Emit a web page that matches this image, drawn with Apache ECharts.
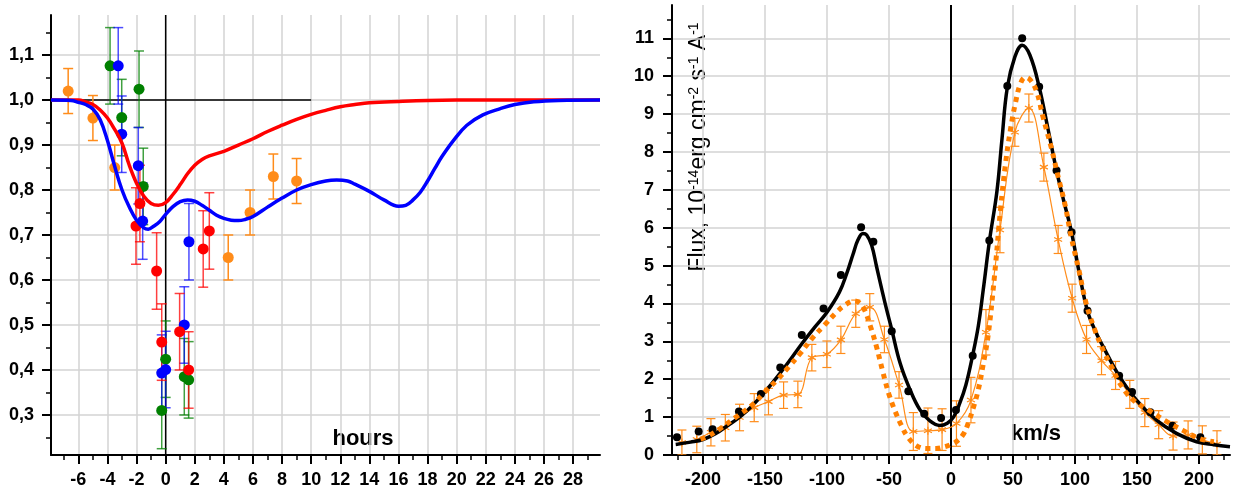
<!DOCTYPE html>
<html>
<head>
<meta charset="utf-8">
<script src="https://cdn.jsdelivr.net/npm/echarts@6/dist/echarts.min.js"></script>
<style>
  html, body { margin: 0; padding: 0; background: #fff; }
  #chart { width: 1243px; height: 491px; }
</style>
</head>
<body>
<div id="chart"></div>
<script>
// ---------- Left panel: relative flux vs. time (hours) ----------
const hoursTicks = [-6, -4, -2, 0, 2, 4, 6, 8, 10, 12, 14, 16, 18, 20, 22, 24, 26, 28];
const hoursMinor = [-7, -5, -3, -1, 1, 3, 5, 7, 9, 11, 13, 15, 17, 19, 21, 23, 25, 27, 29];
const ratioTicks = [0.3, 0.4, 0.5, 0.6, 0.7, 0.8, 0.9, 1.0, 1.1];
const ratioMinor = [0.25, 0.35, 0.45, 0.55, 0.65, 0.75, 0.85, 0.95, 1.05, 1.15];
const hoursRange = [-7.88, 29.85];
const ratioRange = [0.211, 1.189];

// observed points: [hour, ratio, error]
const orangeObs = [[-6.7, 1.02, 0.05], [-5.0, 0.96, 0.05], [-3.5, 0.85, 0.05], [4.3, 0.65, 0.05],
                   [5.8, 0.75, 0.05], [7.4, 0.83, 0.05], [9.0, 0.82, 0.05]];
const greenObs  = [[-3.82, 1.076, 0.085], [-3.02, 0.961, 0.085], [-1.83, 1.024, 0.085], [-1.54, 0.808, 0.085],
                   [0.0, 0.424, 0.085], [-0.27, 0.31, 0.085], [1.28, 0.385, 0.085], [1.58, 0.378, 0.085]];
const blueObs   = [[-3.26, 1.076, 0.085], [-3.02, 0.924, 0.085], [-1.88, 0.854, 0.085], [-1.58, 0.731, 0.085],
                   [1.6, 0.685, 0.085], [1.28, 0.50, 0.085], [0.0, 0.401, 0.085], [-0.27, 0.393, 0.085]];
const redObs    = [[-1.77, 0.77, 0.085], [-2.04, 0.72, 0.085], [-0.62, 0.62, 0.085], [-0.27, 0.462, 0.085],
                   [0.96, 0.485, 0.085], [1.58, 0.40, 0.085], [2.58, 0.669, 0.085], [3.0, 0.709, 0.085]];

// model light curves
const redModelX = [-7.88, -6, -5.5, -5, -4.5, -4, -3.6, -3, -2.5, -2, -1.5, -1, -0.5, 0, 0.5, 1, 1.5, 2, 2.5, 3, 4, 5, 6, 7, 8, 9, 10, 11, 12, 13, 14, 16, 18, 22, 29.85];
const redModelY = [1.0, 1.0, 0.996, 0.99, 0.978, 0.96, 0.94, 0.904, 0.855, 0.815, 0.786, 0.77, 0.766, 0.772, 0.79, 0.812, 0.836, 0.855, 0.868, 0.876, 0.886, 0.90, 0.914, 0.93, 0.944, 0.957, 0.968, 0.977, 0.985, 0.99, 0.994, 0.997, 0.999, 1.0, 1.0];
const blueModelX = [-7.88, -6.5, -6, -5.5, -5, -4.5, -4, -3.5, -3, -2.5, -2, -1.5, -1.2, -0.8, -0.4, 0, 0.5, 1, 1.5, 2, 2.5, 3, 3.5, 4, 4.5, 5, 5.5, 6, 7, 8, 9, 10, 11, 11.75, 12.5, 13, 14, 15, 16, 16.5, 17, 17.5, 18, 18.5, 19, 19.8, 20.7, 21.8, 23, 24, 25.3, 27, 29.85];
const blueModelY = [1.0, 0.999, 0.995, 0.99, 0.98, 0.956, 0.91, 0.852, 0.80, 0.762, 0.733, 0.716, 0.713, 0.72, 0.73, 0.746, 0.763, 0.774, 0.778, 0.775, 0.766, 0.755, 0.744, 0.737, 0.733, 0.732, 0.735, 0.741, 0.762, 0.782, 0.80, 0.812, 0.82, 0.822, 0.82, 0.813, 0.797, 0.778, 0.764, 0.766, 0.778, 0.795, 0.82, 0.848, 0.875, 0.911, 0.944, 0.967, 0.981, 0.99, 0.996, 0.999, 1.0];

// ---------- Right panel: line profile (km/s) ----------
const velTicks = [-200, -150, -100, -50, 0, 50, 100, 150, 200];
const velMinor = [-220, -210, -190, -180, -170, -160, -140, -130, -120, -110, -90, -80, -70, -60, -40, -30, -20, -10,
                  10, 20, 30, 40, 60, 70, 80, 90, 110, 120, 130, 140, 160, 170, 180, 190, 210, 220];
const fluxTicks = [0, 1, 2, 3, 4, 5, 6, 7, 8, 9, 10, 11];
const fluxMinor = [0.5, 1.5, 2.5, 3.5, 4.5, 5.5, 6.5, 7.5, 8.5, 9.5, 10.5, 11.5];
const velRange = [-225, 225];
const fluxRange = [0, 11.88];

const dotsX = [-221, -203.5, -192.3, -171, -153.3, -137.7, -120.3, -102.8, -88.8, -72.5, -62.6, -47.8, -34.4, -21.6, -8, 4,
               17.5, 30.9, 45.4, 57.4, 71.1, 85.1, 97.2, 110.1, 135.6, 146, 160.8, 178.6, 201.1];
const dotsY = [0.47, 0.62, 0.68, 1.15, 1.61, 2.31, 3.17, 3.87, 4.75, 6.01, 5.63, 3.27, 1.68, 1.09, 0.98, 1.19,
               2.62, 5.66, 9.74, 11.0, 9.72, 7.51, 5.88, 3.81, 2.09, 1.66, 1.13, 0.77, 0.47];

const fitX = [-222, -210, -200, -190, -180, -170, -160, -150, -140, -130, -120, -110, -100, -90, -84, -79, -75, -71, -68, -64, -60, -56, -52, -48, -41, -33, -25, -17, -9, -3, 2, 7, 12, 17.5, 22, 26, 31, 37, 41, 45.4, 51.5, 57.4, 63.6, 71.1, 78.4, 85.1, 91, 97.2, 104, 110, 116, 122.7, 135.6, 149.6, 165.7, 181.8, 198, 212, 225];
const fitY = [0.28, 0.34, 0.41, 0.56, 0.78, 1.01, 1.31, 1.67, 2.07, 2.50, 2.95, 3.37, 3.77, 4.30, 4.80, 5.30, 5.68, 5.85, 5.81, 5.54, 4.97, 4.40, 3.85, 3.34, 2.42, 1.72, 1.19, 0.90, 0.78, 0.84, 1.0, 1.36, 1.85, 2.64, 3.4, 4.36, 5.65, 6.95, 8.3, 9.7, 10.51, 10.82, 10.56, 9.72, 8.58, 7.51, 6.7, 5.88, 4.71, 3.81, 3.3, 2.86, 2.09, 1.45, 0.92, 0.57, 0.35, 0.27, 0.22];

const dottedX = [-202, -196, -186, -173, -160, -150, -140, -131, -121.6, -112, -102, -92, -85, -78, -74, -70, -65, -60, -55, -50, -45, -40, -35, -28, -20, -12, -5, 0, 5, 10, 14, 18, 22, 26, 30, 35, 40, 44, 48, 52, 56, 60, 64, 69, 74, 81, 86, 92, 97, 103, 109, 116, 123, 130, 136, 147, 160, 174, 187, 200, 212];
const dottedY = [0.42, 0.5, 0.70, 1.01, 1.33, 1.67, 1.99, 2.32, 2.68, 3.08, 3.43, 3.78, 3.97, 4.07, 4.02, 3.85, 3.4, 2.85, 2.2, 1.6, 1.15, 0.78, 0.48, 0.25, 0.17, 0.17, 0.22, 0.28, 0.37, 0.55, 0.85, 1.25, 1.72, 2.4, 3.17, 4.7, 6.5, 7.7, 8.6, 9.3, 9.8, 9.97, 9.9, 9.6, 8.95, 8.1, 7.4, 6.6, 5.75, 4.9, 4.0, 3.3, 2.75, 2.3, 1.9, 1.45, 1.17, 0.88, 0.65, 0.44, 0.35];

const starX = [-217, -205, -193.6, -182, -170.5, -158.7, -147.2, -135, -123.5, -112.2, -100.1, -88.8, -76.8, -65.5, -53.7, -41.9, -30.4, -18.6, -7.2, 4.4, 16.1, 28.2, 39.5, 51.5, 62.8, 74.9, 86.4, 97.7, 109.3, 121.4, 132.7, 144.2, 156.3, 167.5, 179.1, 191.2, 202.7, 214.5];
const starY = [0.33, 0.41, 0.6, 0.72, 0.99, 1.25, 1.41, 1.58, 1.6, 2.57, 2.66, 3.04, 3.73, 3.9, 3.05, 1.85, 0.62, 0.64, 0.67, 0.83, 1.45, 3.24, 5.94, 8.52, 9.16, 7.6, 5.69, 4.14, 3.05, 2.49, 2.1, 1.6, 1.12, 0.8, 0.5, 0.53, 0.40, 0.29];
const starErr = [0.33, 0.35, 0.36, 0.35, 0.35, 0.37, 0.35, 0.35, 0.35, 0.35, 0.35, 0.36, 0.36, 0.36, 0.35, 0.35, 0.5, 0.6, 0.55, 0.6, 0.6, 0.6, 0.6, 0.37, 0.37, 0.37, 0.37, 0.37, 0.37, 0.37, 0.37, 0.37, 0.37, 0.37, 0.37, 0.37, 0.37, 0.35];

// ---------- helpers ----------
const FONT = "'Liberation Sans', Arial, Helvetica, sans-serif";
const pairs = (xs, ys) => xs.map((x, i) => [x, ys[i]]);
const commaFmt = v => Number(v).toFixed(1).replace('.', ',');

function mainAxis(grid, range, ticks, pos, margin, fmt) {
  return {
    type: 'value', gridIndex: grid, min: range[0], max: range[1], position: pos,
    axisLine: { show: true, onZero: false, lineStyle: { color: '#000', width: 2 } },
    axisTick: { show: true, inside: false, length: 9, customValues: ticks, lineStyle: { color: '#000', width: 2 } },
    axisLabel: { show: true, customValues: ticks, margin: margin, formatter: fmt,
                 color: '#000', fontSize: 18, fontWeight: 'bold', fontFamily: FONT },
    splitLine: { show: true, lineStyle: { color: '#d3d3d3', width: 1.5 } }
  };
}
function minorAxis(grid, range, ticks, pos) {
  return {
    type: 'value', gridIndex: grid, min: range[0], max: range[1], position: pos,
    axisLine: { show: false, onZero: false },
    axisTick: { show: true, inside: false, length: 5, customValues: ticks, lineStyle: { color: '#000', width: 1.5 } },
    axisLabel: { show: false },
    splitLine: { show: false }
  };
}

function errorBars(name, xi, yi, rows, color, width, cap, opacity, z) {
  return {
    type: 'custom', name: name, xAxisIndex: xi, yAxisIndex: yi, z: z, clip: true, silent: true,
    data: rows,
    encode: { x: 0, y: [1, 2] },
    renderItem: function (params, api) {
      const x = api.value(0);
      const top = api.coord([x, api.value(2)]);
      const bot = api.coord([x, api.value(1)]);
      const st = { stroke: color, lineWidth: width, opacity: opacity };
      return {
        type: 'group',
        children: [
          { type: 'line', shape: { x1: top[0], y1: top[1], x2: bot[0], y2: bot[1] }, style: st },
          { type: 'line', shape: { x1: top[0] - cap, y1: top[1], x2: top[0] + cap, y2: top[1] }, style: st },
          { type: 'line', shape: { x1: bot[0] - cap, y1: bot[1], x2: bot[0] + cap, y2: bot[1] }, style: st }
        ]
      };
    }
  };
}
const obsBars = obs => obs.map(p => [p[0], p[1] - p[2], p[1] + p[2]]);
const obsPoints = (name, obs, color) => ({
  type: 'scatter', name: name, xAxisIndex: 0, yAxisIndex: 0, z: 3,
  symbol: 'circle', symbolSize: 11, itemStyle: { color: color, opacity: 1 },
  data: obs.map(p => [p[0], p[1]])
});

const ORANGE = '#ff8c1a';
const ORANGE2 = '#ff8000';
const asterisk = 'path://M5,0L5,10M0.67,2.5L9.33,7.5M0.67,7.5L9.33,2.5';

const series = [
  // left panel reference lines
  { type: 'line', xAxisIndex: 0, yAxisIndex: 0, z: 1, showSymbol: false, silent: true,
    lineStyle: { color: '#000', width: 1.5 }, data: [[0, ratioRange[0]], [0, ratioRange[1]]] },
  { type: 'line', xAxisIndex: 0, yAxisIndex: 0, z: 1, showSymbol: false, silent: true,
    lineStyle: { color: '#000', width: 1.5 }, data: [[hoursRange[0], 1.0], [10, 1.0]] },
  // error bars
  errorBars('orange err', 0, 0, obsBars(orangeObs), ORANGE, 1.5, 5, 1, 2),
  errorBars('green err', 0, 0, obsBars(greenObs), '#008000', 1.5, 5, 0.75, 2),
  errorBars('blue err', 0, 0, obsBars(blueObs), '#0000ff', 1.5, 5, 0.7, 2),
  errorBars('red err', 0, 0, obsBars(redObs), '#ff0000', 1.5, 5, 0.75, 2),
  // observed points
  obsPoints('orange', orangeObs, ORANGE),
  obsPoints('green', greenObs, '#008000'),
  obsPoints('blue', blueObs, '#0000ff'),
  obsPoints('red', redObs, '#ff0000'),
  // model curves
  { type: 'line', name: 'red model', xAxisIndex: 0, yAxisIndex: 0, z: 4, smooth: 0.4, showSymbol: false,
    lineStyle: { color: '#ff0000', width: 3.5 }, data: pairs(redModelX, redModelY) },
  { type: 'line', name: 'blue model', xAxisIndex: 0, yAxisIndex: 0, z: 4, smooth: 0.4, showSymbol: false,
    lineStyle: { color: '#0000ff', width: 3.5 }, data: pairs(blueModelX, blueModelY) },

  // right panel zero-velocity line
  { type: 'line', xAxisIndex: 2, yAxisIndex: 2, z: 1, showSymbol: false, silent: true,
    lineStyle: { color: '#000', width: 2 }, data: [[0, fluxRange[0]], [0, fluxRange[1]]] },
  errorBars('profile err', 2, 2, starX.map((x, i) => [x, Math.max(0, starY[i] - starErr[i]), starY[i] + starErr[i]]),
            ORANGE, 1.2, 4.5, 1, 2),
  { type: 'line', name: 'profile', xAxisIndex: 2, yAxisIndex: 2, z: 3, smooth: 0.4,
    symbol: asterisk, symbolSize: 8, showSymbol: true,
    itemStyle: { color: 'none', borderColor: ORANGE, borderWidth: 1.2 },
    lineStyle: { color: ORANGE, width: 1.2 }, data: pairs(starX, starY) },
  { type: 'line', name: 'fit', xAxisIndex: 2, yAxisIndex: 2, z: 4, smooth: 0.4, showSymbol: false,
    lineStyle: { color: '#000', width: 3.5 }, data: pairs(fitX, fitY) },
  { type: 'scatter', name: 'observed', xAxisIndex: 2, yAxisIndex: 2, z: 5,
    symbol: 'circle', symbolSize: 8, itemStyle: { color: '#000', opacity: 1 }, data: pairs(dotsX, dotsY) },
  { type: 'line', name: 'model', xAxisIndex: 2, yAxisIndex: 2, z: 6, smooth: 0.4, showSymbol: false,
    lineStyle: { color: ORANGE2, width: 5, type: [5, 5], cap: 'butt' }, data: pairs(dottedX, dottedY) }
];

const chart = echarts.init(document.getElementById('chart'), null, { renderer: 'canvas' });
chart.setOption({
  animation: false,
  backgroundColor: '#fff',
  grid: [
    { left: 51, top: 15, width: 549, height: 440 },
    { left: 672, top: 5, width: 558, height: 450 }
  ],
  xAxis: [
    mainAxis(0, hoursRange, hoursTicks, 'bottom', 16, v => String(v)),
    minorAxis(0, hoursRange, hoursMinor, 'bottom'),
    mainAxis(1, velRange, velTicks, 'bottom', 16, v => String(v)),
    minorAxis(1, velRange, velMinor, 'bottom')
  ],
  yAxis: [
    mainAxis(0, ratioRange, ratioTicks, 'left', 17, commaFmt),
    minorAxis(0, ratioRange, ratioMinor, 'left'),
    mainAxis(1, fluxRange, fluxTicks, 'left', 18, v => String(v)),
    minorAxis(1, fluxRange, fluxMinor, 'left')
  ],
  graphic: [
    { type: 'text', x: 363, y: 439, silent: true,
      style: { text: 'hours', fill: '#000', font: "bold 22px " + FONT, align: 'center', verticalAlign: 'middle' } },
    { type: 'text', x: 1036, y: 434, silent: true,
      style: { text: 'km/s', fill: '#000', font: "bold 22px " + FONT, align: 'center', verticalAlign: 'middle' } },
    { type: 'text', x: 699, y: 147, rotation: Math.PI / 2, silent: true,
      style: {
        text: '{n|Flux, 10}{s|-14}{n|erg cm}{s|-2}{n| s}{s|-1}{n| A}{s|-1}',
        align: 'center', verticalAlign: 'middle', fill: '#000',
        rich: {
          n: { fontSize: 23, fontFamily: FONT, fill: '#000', color: '#000' },
          s: { fontSize: 14, fontFamily: FONT, fill: '#000', color: '#000', verticalAlign: 'top' }
        }
      } }
  ],
  series: series
});
</script>
</body>
</html>
